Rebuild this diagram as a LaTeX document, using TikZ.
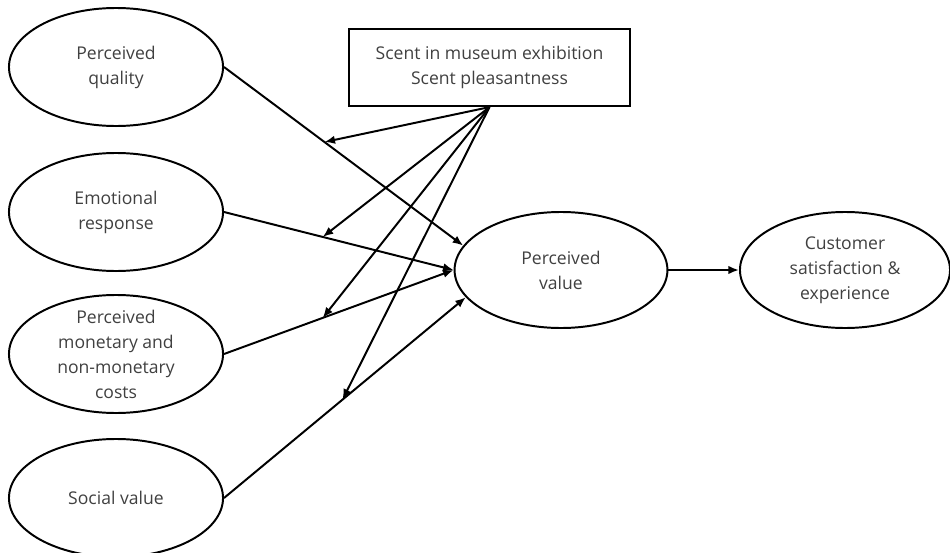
\documentclass[tikz,border=0pt]{standalone}
\usepackage{fontspec}
\setmainfont{Open Sans}
\usetikzlibrary{shapes.geometric,arrows.meta}
\definecolor{txtgray}{HTML}{404040}
\begin{document}
\begin{tikzpicture}[x=0.025cm, y=-0.025cm,
  every node/.style={font=\fontsize{12.5}{17.8}\selectfont, text=txtgray},
  var/.style={ellipse, draw=black, line width=1.4pt, inner sep=0pt, minimum width=5.35cm, minimum height=2.95cm},
  lbl/.style={align=center},
  arr/.style={-{Latex[length=7.5pt,width=6pt]}, line width=1.4pt}]
\clip (0,0) rectangle (950,553);
\node[var, label={[lbl]center:Perceived\\quality}] (pq) at (116,67) {};
\node[var, label={[lbl]center:Emotional\\response}] (er) at (116,212) {};
\node[var, label={[lbl]center:Perceived\\monetary and\\non-monetary\\costs}] (pc) at (116,354) {};
\node[var, label={[lbl]center:Social value}] (sv) at (116,498) {};
\node[var, minimum width=5.32cm, minimum height=2.9cm, label={[lbl]center:Perceived\\value}] (pv) at (561,270) {};
\node[var, minimum width=5.25cm, minimum height=2.9cm, label={[lbl]center:Customer\\satisfaction \&\\experience}] (cs) at (845,270) {};
\node[draw=black, line width=1.4pt, minimum width=7.03cm, minimum height=1.93cm, align=center] (scent) at (489.5,67.5) {Scent in museum exhibition\\Scent pleasantness};
\draw[arr] (pq.east) -- coordinate[pos=0.42] (m1) (pv.166);
\draw[arr] (er.east) -- coordinate[pos=0.43] (m2) (pv.west);
\draw[arr] (pc.east) -- coordinate[pos=0.43] (m3) (pv.west);
\draw[arr] (sv.east) -- coordinate[pos=0.49] (m4) (pv.196);
\draw[arr] (pv.east) -- (cs.west);
\foreach \m in {m1,m2,m3,m4}
  \draw[arr] (scent.south) -- (\m);
\end{tikzpicture}
\end{document}
